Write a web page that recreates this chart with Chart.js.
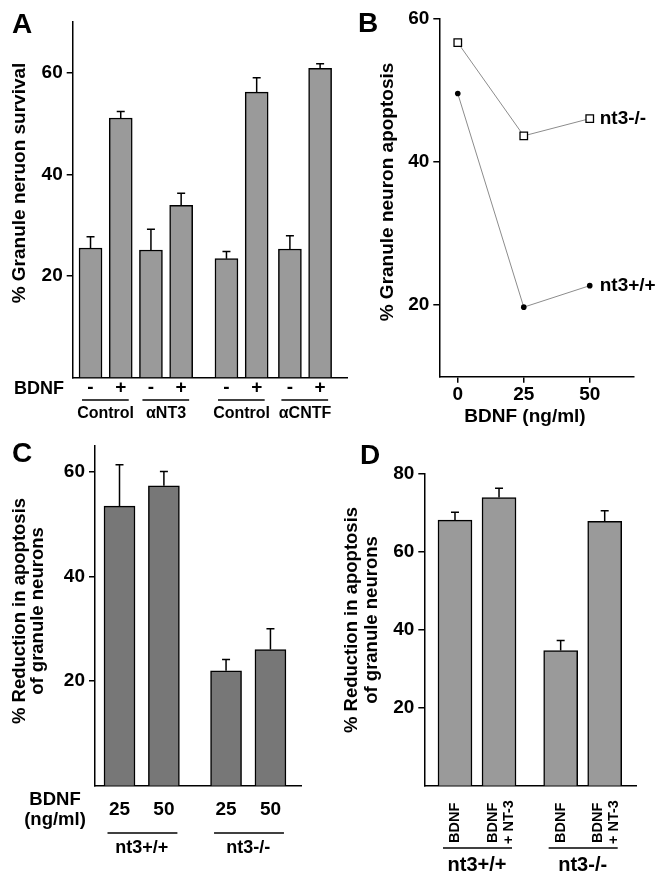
<!DOCTYPE html>
<html>
<head>
<meta charset="utf-8">
<script src="https://cdn.jsdelivr.net/npm/chart.js@4.4.1/dist/chart.umd.min.js"></script>
<style>
  body { margin: 0; background: #fff; }
  #fig { position: relative; width: 657px; height: 876px; }
  canvas { position: absolute; }
</style>
</head>
<body>
<div id="fig">
  <canvas id="panel-a" width="350" height="440" style="left:0;top:0"></canvas>
  <canvas id="panel-b" width="307" height="440" style="left:350px;top:0"></canvas>
  <canvas id="panel-c" width="340" height="446" style="left:0;top:430px"></canvas>
  <canvas id="panel-d" width="317" height="446" style="left:340px;top:430px"></canvas>
</div>
<script>
// A: granule neuron survival
const bdnfA = ['-', '+', '-', '+', '-', '+', '-', '+'];
const groupsA = ['Control', 'αNT3', 'Control', 'αCNTF'];
const survivalA = [25.5, 51.1, 25.1, 33.9, 23.4, 56.2, 25.3, 60.9];
const survivalErrA = [2.2, 1.3, 4.1, 2.4, 1.4, 2.8, 2.6, 0.9];
const slotsA = [0, 1, 2, 3, 4.5, 5.5, 6.6, 7.6];
const yTicksA = [20, 40, 60];

// B: apoptosis vs BDNF dose
const doseB = [0, 25, 50];
const apoptosisKO = [56.6, 43.6, 46.0];
const apoptosisWT = [49.5, 19.7, 22.7];
const xTicksB = [0, 25, 50];
const yTicksB = [20, 40, 60];

// C: reduction in apoptosis by dose
const doseC = ['25', '50', '25', '50'];
const groupsC = ['nt3+/+', 'nt3-/-'];
const reductionC = [53.4, 57.3, 21.95, 26.0];
const reductionErrC = [7.9, 2.7, 2.15, 4.0];
const yTicksC = [20, 40, 60];

// D: reduction in apoptosis by treatment
const treatD = [['BDNF'], ['BDNF', '+ NT-3'], ['BDNF'], ['BDNF', '+ NT-3']];
const groupsD = ['nt3+/+', 'nt3-/-'];
const reductionD = [68.0, 73.8, 34.6, 67.7];
const reductionErrD = [2.0, 2.4, 2.6, 2.7];
const yTicksD = [20, 40, 60, 80];

const slotsCD = [0, 1, 2.4, 3.4];

const FONT = '"Liberation Sans", Arial, Helvetica, sans-serif';
Chart.defaults.font.family = FONT;
Chart.defaults.color = '#000';

function text(ctx, str, x, y, size, align, rotate) {
    ctx.save();
    ctx.font = `bold ${size}px ${FONT}`;
    ctx.fillStyle = '#000';
    ctx.textAlign = align || 'center';
    ctx.textBaseline = 'middle';
    ctx.translate(x, y);
    if (rotate) ctx.rotate(rotate);
    ctx.fillText(str, 0, 0);
    ctx.restore();
}

function hline(ctx, x1, x2, y) {
    ctx.save();
    ctx.strokeStyle = '#000';
    ctx.lineWidth = 1.5;
    ctx.beginPath();
    ctx.moveTo(x1, y);
    ctx.lineTo(x2, y);
    ctx.stroke();
    ctx.restore();
}

function drawErrors(chart, errs) {
    const ctx = chart.ctx;
    const yScale = chart.scales.y;
    const points = chart.data.datasets[0].data;
    ctx.save();
    ctx.strokeStyle = '#000';
    ctx.lineWidth = 1.5;
    chart.getDatasetMeta(0).data.forEach((bar, i) => {
        const top = yScale.getPixelForValue(points[i].y + errs[i]);
        ctx.beginPath();
        ctx.moveTo(bar.x, bar.y);
        ctx.lineTo(bar.x, top);
        ctx.moveTo(bar.x - 4, top);
        ctx.lineTo(bar.x + 4, top);
        ctx.stroke();
    });
    ctx.restore();
}

function yScale(min, max, ticks, width) {
    return {
        min, max,
        afterFit: s => { s.width = width; },
        afterBuildTicks: s => { s.ticks = ticks.map(v => ({ value: v })); },
        grid: { drawOnChartArea: false, drawTicks: true, tickLength: 6, color: '#000', lineWidth: 1.5 },
        border: { display: true, color: '#000', width: 1.5 },
        ticks: { color: '#000', padding: 4, font: { size: 19, weight: 'bold' } }
    };
}

function xBarScale(min, max, height) {
    return {
        type: 'linear', min, max,
        offset: false,
        afterFit: s => { s.height = height; },
        grid: { display: false, offset: false },
        ticks: { display: false },
        border: { display: true, color: '#000', width: 1.5 }
    };
}

function barChart(id, slots, values, color, thickness, padding, scales, draw) {
    return new Chart(document.getElementById(id), {
        type: 'bar',
        data: {
            datasets: [{
                data: slots.map((x, i) => ({ x, y: values[i] })),
                backgroundColor: color,
                borderColor: '#000',
                borderWidth: 1.5,
                barThickness: thickness
            }]
        },
        options: {
            responsive: false,
            animation: false,
            layout: { padding },
            plugins: { legend: { display: false }, tooltip: { enabled: false } },
            scales
        },
        plugins: [{ id: id + '-labels', afterDatasetsDraw: draw }]
    });
}

// Panel A
barChart('panel-a', slotsA, survivalA, '#9a9a9a', 23,
    { left: 0, top: 22, right: 3, bottom: 0 },
    { x: xBarScale(-0.59, 8.49, 62.5), y: yScale(0, 70, yTicksA, 72.7) },
    chart => {
        const ctx = chart.ctx;
        const bars = chart.getDatasetMeta(0).data;
        drawErrors(chart, survivalErrA);
        text(ctx, 'A', 12, 25, 28, 'left');
        text(ctx, '% Granule neruon survival', 20, 183, 19, 'center', -Math.PI / 2);
        text(ctx, 'BDNF', 14, 389, 18, 'left');
        bars.forEach((bar, i) => text(ctx, bdnfA[i], bar.x, 388, 19));
        groupsA.forEach((g, p) => {
            const a = bars[2 * p].x, b = bars[2 * p + 1].x;
            hline(ctx, a - 8.5, b + 8, 400);
            text(ctx, g, (a + b) / 2, 414, 16);
        });
    });

// Panel B
new Chart(document.getElementById('panel-b'), {
    type: 'line',
    data: {
        datasets: [{
            label: 'nt3-/-',
            data: doseB.map((x, i) => ({ x, y: apoptosisKO[i] })),
            borderColor: '#8c8c8c',
            borderWidth: 1,
            pointStyle: 'rect',
            pointRadius: 5.3,
            pointBackgroundColor: '#fff',
            pointBorderColor: '#000',
            pointBorderWidth: 1.3
        }, {
            label: 'nt3+/+',
            data: doseB.map((x, i) => ({ x, y: apoptosisWT[i] })),
            borderColor: '#8c8c8c',
            borderWidth: 1,
            pointStyle: 'circle',
            pointRadius: 2.8,
            pointBackgroundColor: '#000',
            pointBorderColor: '#000',
            pointBorderWidth: 0
        }]
    },
    options: {
        responsive: false,
        animation: false,
        layout: { padding: { left: 0, top: 18.3, right: 23.7, bottom: 0 } },
        plugins: { legend: { display: false }, tooltip: { enabled: false } },
        scales: {
            x: {
                type: 'linear', min: -7, max: 66.5,
                afterFit: s => { s.height = 63.3; },
                afterBuildTicks: s => { s.ticks = xTicksB.map(v => ({ value: v })); },
                grid: { drawOnChartArea: false, drawTicks: true, tickLength: 6, color: '#000', lineWidth: 1.5 },
                border: { display: true, color: '#000', width: 1.5 },
                ticks: { color: '#000', padding: 1, font: { size: 19, weight: 'bold' } }
            },
            y: yScale(10, 60, yTicksB, 89.3)
        }
    },
    plugins: [{
        id: 'panel-b-labels',
        afterDatasetsDraw(chart) {
            const ctx = chart.ctx;
            text(ctx, 'B', 8, 24, 28, 'left');
            text(ctx, '% Granule neuron apoptosis', 38, 192, 19, 'center', -Math.PI / 2);
            text(ctx, 'BDNF (ng/ml)', 175, 417, 19);
            chart.data.datasets.forEach((ds, d) => {
                const last = chart.getDatasetMeta(d).data[doseB.length - 1];
                text(ctx, ds.label, last.x + 10, last.y, 19, 'left');
            });
        }
    }]
});

// Panel C
barChart('panel-c', slotsCD, reductionC, '#777777', 31,
    { left: 0, top: 9.3, right: 38.3, bottom: 0 },
    { x: xBarScale(-0.552, 4.104, 90.3), y: yScale(0, 65, yTicksC, 95) },
    chart => {
        const ctx = chart.ctx;
        const bars = chart.getDatasetMeta(0).data;
        drawErrors(chart, reductionErrC);
        text(ctx, 'C', 12, 24, 28, 'left');
        text(ctx, '% Reduction in apoptosis', 20, 181, 18.5, 'center', -Math.PI / 2);
        text(ctx, 'of granule neurons', 38, 181, 18.5, 'center', -Math.PI / 2);
        text(ctx, 'BDNF', 55, 370, 18.5);
        text(ctx, '(ng/ml)', 55, 390, 18.5);
        bars.forEach((bar, i) => text(ctx, doseC[i], bar.x, 380, 19));
        groupsC.forEach((g, p) => {
            const a = bars[2 * p].x, b = bars[2 * p + 1].x;
            hline(ctx, a - 12, b + 13.5, 403);
            text(ctx, g, (a + b) / 2, 418, 18);
        });
    });

// Panel D
barChart('panel-d', slotsCD, reductionD, '#9a9a9a', 34,
    { left: 0, top: 43.3, right: 21, bottom: 0 },
    { x: xBarScale(-0.697, 4.111, 90.3), y: yScale(0, 80, yTicksD, 84.3) },
    chart => {
        const ctx = chart.ctx;
        const bars = chart.getDatasetMeta(0).data;
        drawErrors(chart, reductionErrD);
        text(ctx, 'D', 20, 26, 28, 'left');
        text(ctx, '% Reduction in apoptosis', 12, 190, 18.5, 'center', -Math.PI / 2);
        text(ctx, 'of granule neurons', 32, 190, 18.5, 'center', -Math.PI / 2);
        bars.forEach((bar, i) => {
            const lines = treatD[i];
            if (lines.length === 1) {
                text(ctx, lines[0], bar.x, 413, 14.5, 'left', -Math.PI / 2);
            } else {
                text(ctx, lines[0], bar.x - 6.5, 413, 14.5, 'left', -Math.PI / 2);
                text(ctx, lines[1], bar.x + 9.5, 414, 14.5, 'left', -Math.PI / 2);
            }
        });
        groupsD.forEach((g, p) => {
            const a = bars[2 * p].x, b = bars[2 * p + 1].x;
            hline(ctx, a - 12, b + 13, 418);
            text(ctx, g, (a + b) / 2, 435, 20);
        });
    });
</script>
</body>
</html>
